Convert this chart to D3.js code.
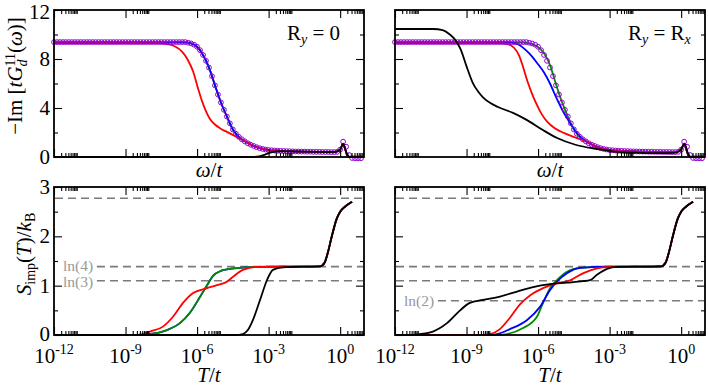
<!DOCTYPE html>
<html>
<head>
<meta charset="utf-8">
<script src="https://cdn.jsdelivr.net/npm/d3@7"></script>
<style>
  body { margin: 0; background: #fff; }
  svg  { display: block; }
</style>
</head>
<body>
<svg id="chart" width="708" height="388"></svg>
<script>
// ---------------------------------------------------------------- data
// x values are stored as log10 exponents (omega/t or T/t).
const majorExponents   = [ -12, -9, -6, -3, 0 ];
const minorMultipliers = [ 2, 3, 4, 5, 6, 7, 8, 9 ];
const xTickLabels      = [ '-12', '-9', '-6', '-3', '0' ];
const spectralTicks    = [ 0, 4, 8, 12 ];
const spectralMinor    = [ 2, 6, 10 ];
const entropyTicks     = [ 0, 1, 2, 3 ];
const entropyMinor     = [ 0.5, 1.5, 2.5 ];

// entropy reference levels: ln(16), ln(4), ln(3), ln(2)
const levelValues = [ 2.7726, 1.3863, 1.0986, 0.6931 ];
const levelLabels = [ '',     'ln(4)', 'ln(3)', 'ln(2)' ];

// open circles (reference spectrum), one every 1/8 decade from 1e-12
const circleLogStart = -12;
const circleLogStep  = 0.125;
const circleValues = [
  9.38, 9.38, 9.38, 9.38, 9.38, 9.38, 9.38, 9.38,
  9.38, 9.38, 9.38, 9.38, 9.38, 9.38, 9.38, 9.38,
  9.38, 9.38, 9.38, 9.38, 9.38, 9.38, 9.38, 9.38,
  9.38, 9.38, 9.38, 9.38, 9.38, 9.38, 9.38, 9.38,
  9.38, 9.38, 9.38, 9.38, 9.38, 9.38, 9.38, 9.38,
  9.38, 9.38, 9.38, 9.38, 9.38, 9.33, 9.27, 9.17,
  9.00, 8.72, 8.33, 7.85, 7.30, 6.60, 5.85, 5.10,
  4.45, 3.85, 3.30, 2.75, 2.25, 1.90, 1.65, 1.45,
  1.28, 1.12, 1.00, 0.90, 0.80, 0.72, 0.66, 0.61,
  0.57, 0.55, 0.53, 0.51, 0.50, 0.49, 0.48, 0.47,
  0.46, 0.45, 0.45, 0.44, 0.44, 0.43, 0.43, 0.42,
  0.42, 0.42, 0.41, 0.41, 0.41, 0.40, 0.40, 0.42,
  0.60, 1.25, 0.84, 0.16, -0.08, -0.10, -0.10, -0.10
];

// common high-frequency tail of the spectra
const spectralTail = [
  [ -3.5, 0.80 ], [ -3.0, 0.57 ], [ -2.5, 0.50 ], [ -2.0, 0.46 ], [ -1.0, 0.42 ],
  [ -0.5, 0.41 ], [ -0.2, 0.42 ], [ 0.0, 0.60 ], [ 0.12, 1.08 ], [ 0.3, 0.15 ],
  [ 0.4, 0.0 ], [ 0.9, 0.0 ]
];

// top-left panel, R_y = 0
const greenTopLeft = [
  [ -12, 9.35 ], [ -6.5, 9.35 ], [ -6.25, 9.27 ], [ -6.0, 9.0 ], [ -5.75, 8.33 ],
  [ -5.5, 7.3 ], [ -5.25, 5.85 ], [ -5.0, 4.45 ], [ -4.75, 3.3 ], [ -4.5, 2.25 ],
  [ -4.25, 1.65 ], [ -4.0, 1.28 ]
];
const blueTopLeft = [
  [ -12, 9.35 ], [ -6.5, 9.35 ], [ -6.25, 9.27 ], [ -6.0, 9.0 ], [ -5.75, 8.33 ],
  [ -5.5, 7.3 ], [ -5.25, 5.85 ], [ -5.0, 4.45 ], [ -4.75, 3.3 ], [ -4.5, 2.25 ],
  [ -4.25, 1.65 ], [ -4.0, 1.28 ]
];
const redTopLeft = [
  [ -12, 9.3 ], [ -7.6, 9.3 ], [ -7.2, 9.2 ], [ -6.9, 9.0 ], [ -6.63, 8.6 ],
  [ -6.38, 7.9 ], [ -6.17, 7.0 ], [ -5.96, 5.6 ], [ -5.8, 4.6 ], [ -5.62, 3.7 ],
  [ -5.46, 3.1 ], [ -5.25, 2.65 ], [ -5.04, 2.35 ], [ -4.75, 2.05 ], [ -4.5, 1.8 ],
  [ -4.2, 1.5 ], [ -4.0, 1.28 ]
];
const blackTopLeft = [
  [ -12, 0 ], [ -3.7, 0 ], [ -3.4, 0.05 ], [ -3.15, 0.2 ], [ -2.9, 0.38 ],
  [ -2.5, 0.47 ], [ -2.0, 0.46 ], [ -1.0, 0.42 ], [ -0.5, 0.41 ], [ -0.2, 0.42 ],
  [ 0.0, 0.6 ], [ 0.12, 1.06 ], [ 0.3, 0.15 ], [ 0.4, 0.0 ], [ 0.9, 0.0 ]
];

// top-right panel, R_y = R_x
const greenTopRight = [
  [ -12, 9.35 ], [ -6.7, 9.35 ], [ -6.4, 9.3 ], [ -6.1, 9.1 ], [ -5.9, 8.8 ],
  [ -5.7, 8.3 ], [ -5.5, 7.5 ], [ -5.35, 6.6 ], [ -5.21, 5.7 ], [ -5.0, 4.5 ],
  [ -4.75, 3.3 ], [ -4.5, 2.25 ], [ -4.25, 1.65 ], [ -4.0, 1.28 ]
];
const blueTopRight = [
  [ -12, 9.35 ], [ -7.3, 9.35 ], [ -7.0, 9.3 ], [ -6.75, 9.1 ], [ -6.5, 8.7 ],
  [ -6.25, 8.2 ], [ -6.05, 7.7 ], [ -5.75, 6.9 ], [ -5.5, 6.0 ], [ -5.25, 4.9 ],
  [ -5.0, 3.9 ], [ -4.75, 3.05 ], [ -4.5, 2.3 ], [ -4.25, 1.68 ], [ -4.0, 1.3 ]
];
const redTopRight = [
  [ -12, 9.3 ], [ -7.6, 9.3 ], [ -7.25, 9.2 ], [ -7.0, 8.9 ], [ -6.8, 8.3 ],
  [ -6.63, 7.35 ], [ -6.45, 6.2 ], [ -6.26, 5.2 ], [ -6.05, 4.25 ], [ -5.85, 3.5 ],
  [ -5.6, 2.85 ], [ -5.3, 2.35 ], [ -4.9, 1.95 ], [ -4.45, 1.6 ], [ -4.0, 1.28 ]
];
const blackTopRight = [
  [ -12, 10.45 ], [ -10.4, 10.45 ], [ -10.0, 10.35 ], [ -9.7, 10.0 ], [ -9.45, 9.5 ],
  [ -9.25, 8.8 ], [ -9.0, 7.4 ], [ -8.75, 6.1 ], [ -8.5, 5.3 ], [ -8.3, 4.85 ],
  [ -8.0, 4.4 ], [ -7.7, 4.1 ], [ -7.05, 3.6 ], [ -6.5, 3.05 ], [ -5.8, 2.2 ],
  [ -5.2, 1.55 ], [ -4.4, 0.98 ], [ -3.5, 0.65 ], [ -2.7, 0.42 ], [ -1.7, 0.34 ],
  [ -0.9, 0.31 ], [ -0.3, 0.34 ], [ -0.1, 0.45 ], [ 0.0, 0.65 ], [ 0.14, 1.06 ],
  [ 0.3, 0.2 ], [ 0.4, 0.0 ], [ 0.9, 0.0 ]
];

// common high-temperature rise of the entropy
const entropyHighT = [
  [ -1.5, 1.386 ], [ -0.85, 1.39 ], [ -0.65, 1.47 ], [ -0.5, 1.7 ], [ -0.35, 2.0 ],
  [ -0.15, 2.35 ], [ 0.0, 2.5 ], [ 0.2, 2.6 ], [ 0.5, 2.7 ]
];

// bottom-left panel
const greenBottomLeft = [
  [ -12, 0 ], [ -8.3, 0 ], [ -8.0, 0.02 ], [ -7.6, 0.05 ], [ -7.26, 0.1 ],
  [ -6.72, 0.24 ], [ -6.3, 0.45 ], [ -5.88, 0.77 ], [ -5.58, 1.01 ], [ -5.33, 1.2 ],
  [ -5.0, 1.3 ], [ -4.75, 1.33 ], [ -4.2, 1.36 ], [ -3.5, 1.38 ], [ -2.5, 1.386 ]
];
const blueBottomLeft = [
  [ -12, 0 ], [ -8.3, 0 ], [ -8.0, 0.02 ], [ -7.6, 0.05 ], [ -7.26, 0.1 ],
  [ -6.72, 0.24 ], [ -6.3, 0.45 ], [ -5.88, 0.77 ], [ -5.58, 1.01 ], [ -5.33, 1.2 ],
  [ -5.0, 1.3 ], [ -4.75, 1.33 ], [ -4.2, 1.36 ], [ -3.5, 1.38 ], [ -2.5, 1.386 ]
];
const redBottomLeft = [
  [ -12, 0 ], [ -8.6, 0 ], [ -8.3, 0.02 ], [ -7.97, 0.07 ], [ -7.43, 0.17 ],
  [ -7.01, 0.37 ], [ -6.59, 0.65 ], [ -6.17, 0.85 ], [ -5.58, 0.95 ], [ -5.17, 1.01 ],
  [ -4.75, 1.08 ], [ -4.49, 1.18 ], [ -4.08, 1.32 ], [ -3.49, 1.38 ], [ -2.5, 1.386 ]
];
const blackBottomLeft = [
  [ -12, 0 ], [ -4.4, 0 ], [ -4.08, 0.02 ], [ -3.87, 0.1 ], [ -3.66, 0.3 ],
  [ -3.36, 0.71 ], [ -3.07, 1.11 ], [ -2.82, 1.32 ], [ -2.4, 1.37 ]
];

// bottom-right panel
const greenBottomRight = [
  [ -12, 0 ], [ -7.8, 0 ], [ -7.3, 0.02 ], [ -6.63, 0.14 ], [ -6.05, 0.37 ],
  [ -5.79, 0.65 ], [ -5.5, 0.95 ], [ -5.21, 1.11 ], [ -4.79, 1.28 ], [ -4.24, 1.36 ],
  [ -3.0, 1.386 ]
];
const blueBottomRight = [
  [ -12, 0 ], [ -8.2, 0 ], [ -7.72, 0.02 ], [ -7.18, 0.12 ], [ -6.47, 0.3 ],
  [ -5.92, 0.57 ], [ -5.5, 0.91 ], [ -5.21, 1.08 ], [ -4.79, 1.25 ], [ -4.24, 1.36 ],
  [ -3.0, 1.386 ]
];
const redBottomRight = [
  [ -12, 0 ], [ -8.5, 0 ], [ -8.02, 0.02 ], [ -7.6, 0.12 ], [ -7.18, 0.35 ],
  [ -6.76, 0.62 ], [ -6.34, 0.8 ], [ -5.79, 0.95 ], [ -5.21, 1.05 ], [ -4.66, 1.11 ],
  [ -4.12, 1.25 ], [ -3.53, 1.35 ], [ -3.0, 1.38 ]
];
const blackBottomRight = [
  [ -12, 0 ], [ -11.3, 0 ], [ -11.08, 0.01 ], [ -10.41, 0.07 ], [ -9.82, 0.24 ],
  [ -9.27, 0.5 ], [ -8.86, 0.65 ], [ -8.31, 0.71 ], [ -7.6, 0.78 ], [ -6.88, 0.88 ],
  [ -6.21, 0.97 ], [ -5.5, 1.03 ], [ -4.79, 1.06 ], [ -4.12, 1.09 ], [ -3.82, 1.11 ],
  [ -3.53, 1.22 ], [ -3.11, 1.34 ], [ -2.69, 1.38 ]
];

const colors = { black: '#000', red: '#ff0000', green: '#008b00', blue: '#0000ff', violet: '#9400d3' };
const serif  = "'Liberation Serif'";

// ---------------------------------------------------------------- layout
const svg = d3.select( '#chart' );
const panelW = 310;
const panels = [
  { left: 54,  top: 10,  bottom: 157, yMax: 12, kind: 'spectral', yLabels: true,  tag: 'R_y = 0' },
  { left: 395, top: 10,  bottom: 157, yMax: 12, kind: 'spectral', yLabels: false, tag: 'R_y = R_x' },
  { left: 54,  top: 187, bottom: 335, yMax: 3,  kind: 'entropy',  yLabels: true,  levels: [ 0, 1, 2 ] },
  { left: 395, top: 187, bottom: 335, yMax: 3,  kind: 'entropy',  yLabels: false, levels: [ 0, 1, 2, 3 ] }
];
panels[0].series = [
  { d: greenTopLeft.concat( spectralTail ), c: colors.green },
  { d: blueTopLeft.concat( spectralTail ),  c: colors.blue },
  { d: redTopLeft.concat( spectralTail ),   c: colors.red },
  { circles: true },
  { d: blackTopLeft, c: colors.black }
];
panels[1].series = [
  { d: greenTopRight.concat( spectralTail ), c: colors.green },
  { d: blueTopRight.concat( spectralTail ),  c: colors.blue },
  { d: redTopRight.concat( spectralTail ),   c: colors.red },
  { circles: true },
  { d: blackTopRight, c: colors.black }
];
panels[2].series = [
  { d: blueBottomLeft.concat( entropyHighT ),  c: colors.blue },
  { d: greenBottomLeft.concat( entropyHighT ), c: colors.green },
  { d: redBottomLeft.concat( entropyHighT ),   c: colors.red },
  { d: blackBottomLeft.concat( entropyHighT ), c: colors.black }
];
panels[3].series = [
  { d: greenBottomRight.concat( entropyHighT ), c: colors.green },
  { d: blueBottomRight.concat( entropyHighT ),  c: colors.blue },
  { d: redBottomRight.concat( entropyHighT ),   c: colors.red },
  { d: blackBottomRight.concat( entropyHighT ), c: colors.black }
];

const minorValues = [ ];
majorExponents.forEach( e => minorMultipliers.forEach( m => minorValues.push( m * Math.pow( 10, e ) ) ) );

// ---------------------------------------------------------------- drawing
panels.forEach( p => {
  const x = d3.scaleLog( ).domain( [ 1e-12, 10 ] ).range( [ p.left, p.left + panelW ] );
  const y = d3.scaleLinear( ).domain( [ 0, p.yMax ] ).range( [ p.bottom, p.top ] );
  const g = svg.append( 'g' );
  const yMajor = p.kind === 'spectral' ? spectralTicks : entropyTicks;
  const yMinor = p.kind === 'spectral' ? spectralMinor : entropyMinor;

  // dashed entropy levels; labelled ones start right after their label
  if ( p.levels ) {
    p.levels.forEach( i => {
      const labelled = i !== 0 && ( p.left < 100 || i === 3 );
      const startExp = labelled ? -10.2 : -12;
      const ly = y( levelValues[ i ] );
      g.append( 'line' )
        .attr( 'x1', x( Math.pow( 10, startExp ) ) + ( labelled ? 0 : 1 ) )
        .attr( 'x2', p.left + panelW - 1 )
        .attr( 'y1', ly )
        .attr( 'y2', ly )
        .attr( 'stroke', '#7a7a7a' )
        .attr( 'stroke-width', 1.6 )
        .attr( 'stroke-dasharray', '8,5' );
      if ( labelled ) {
        // keep ln(4) and ln(3) apart a little
        const nudge = i === 1 ? -1 : ( i === 2 ? 1 : 0 );
        g.append( 'text' )
          .attr( 'x', p.left + 9 )
          .attr( 'y', ly + 5 + nudge )
          .attr( 'font-size', 15.5 )
          .attr( 'fill', '#999' )
          .text( levelLabels[ i ] );
      }
    } );
  }

  // curves
  const line = d3.line( )
    .x( d => x( Math.pow( 10, d[0] ) ) )
    .y( d => y( d[1] ) )
    .curve( d3.curveMonotoneX );
  p.series.forEach( s => {
    if ( s.circles ) {
      g.append( 'g' ).selectAll( 'circle' )
        .data( circleValues )
        .enter( )
        .append( 'circle' )
          .attr( 'cx', ( d, i ) => x( Math.pow( 10, circleLogStart + i * circleLogStep ) ) )
          .attr( 'cy', d => y( d ) )
          .attr( 'r', 2.4 )
          .attr( 'fill', 'none' )
          .attr( 'stroke', colors.violet )
          .attr( 'stroke-width', 1 );
      return;
    }
    g.append( 'path' )
      .datum( s.d )
      .attr( 'd', line )
      .attr( 'fill', 'none' )
      .attr( 'stroke', s.c )
      .attr( 'stroke-width', 1.8 );
  } );

  // ticks on all four sides, pointing inwards
  const tickAxis = ( axis, tx, ty, vals, size ) => {
    const a = g.append( 'g' )
      .attr( 'transform', `translate(${tx},${ty})` )
      .call( axis.tickValues( vals ).tickSize( -size ).tickFormat( '' ) );
    a.select( '.domain' ).remove( );
    a.selectAll( 'line' ).attr( 'stroke-width', 1.1 );
  };
  const majors = majorExponents.map( e => Math.pow( 10, e ) );
  tickAxis( d3.axisBottom( x ), 0, p.bottom, majors, 8 );
  tickAxis( d3.axisBottom( x ), 0, p.bottom, minorValues, 4 );
  tickAxis( d3.axisTop( x ),    0, p.top,    majors, 8 );
  tickAxis( d3.axisTop( x ),    0, p.top,    minorValues, 4 );
  tickAxis( d3.axisLeft( y ),   p.left, 0,   yMajor, 8 );
  tickAxis( d3.axisLeft( y ),   p.left, 0,   yMinor, 4 );
  tickAxis( d3.axisRight( y ),  p.left + panelW, 0, yMajor, 8 );
  tickAxis( d3.axisRight( y ),  p.left + panelW, 0, yMinor, 4 );

  // frame
  g.append( 'rect' )
    .attr( 'x', p.left )
    .attr( 'y', p.top )
    .attr( 'width', panelW )
    .attr( 'height', p.bottom - p.top )
    .attr( 'fill', 'none' )
    .attr( 'stroke', '#000' )
    .attr( 'stroke-width', 1.8 );

  // y tick labels; the outermost ones are kept inside the page / off the x labels
  if ( p.yLabels ) {
    g.selectAll( '.ylab' )
      .data( yMajor )
      .enter( )
      .append( 'text' )
        .attr( 'x', p.left - 4 )
        .attr( 'y', d => {
          const base = y( d ) + 7;
          if ( d === p.yMax && p.top < 20 ) return Math.max( base, 19 );
          if ( d === 0 && p.kind === 'entropy' ) return base - 1.5;
          return base;
        } )
        .attr( 'text-anchor', 'end' )
        .attr( 'font-size', 21 )
        .text( d => d );
  }

  // x tick labels (bottom row only)
  if ( p.kind === 'entropy' ) {
    majorExponents.forEach( ( e, i ) => {
      const t = g.append( 'text' )
        .attr( 'x', x( Math.pow( 10, e ) ) )
        .attr( 'y', 362.5 )
        .attr( 'text-anchor', 'middle' )
        .attr( 'font-size', 21 )
        .text( '10' );
      t.append( 'tspan' )
        .attr( 'dy', -9 )
        .attr( 'font-size', 14 )
        .text( xTickLabels[ i ] );
    } );
  }

  // x axis title
  const cx = p.left + panelW / 2;
  const xt = g.append( 'text' )
    .attr( 'x', cx )
    .attr( 'y', p.kind === 'spectral' ? 177 : 382 )
    .attr( 'text-anchor', 'middle' )
    .attr( 'font-size', 21 )
    .attr( 'font-style', 'italic' );
  xt.append( 'tspan' ).text( p.kind === 'spectral' ? 'ω' : 'T' );
  xt.append( 'tspan' ).attr( 'font-style', 'normal' ).text( '/' );
  xt.append( 'tspan' ).text( 't' );

  // panel tag
  if ( p.tag ) {
    const t = g.append( 'text' )
      .attr( 'x', p.left === 54 ? 287 : 628 )
      .attr( 'y', 40 )
      .attr( 'font-size', 21 );
    t.append( 'tspan' ).text( 'R' );
    t.append( 'tspan' ).attr( 'font-size', 14 ).attr( 'font-style', 'italic' ).attr( 'dy', 4 ).text( 'y' );
    if ( p.tag === 'R_y = 0' ) {
      t.append( 'tspan' ).attr( 'dy', -4 ).text( ' = 0' );
    } else {
      t.append( 'tspan' ).attr( 'dy', -4 ).text( ' = R' );
      t.append( 'tspan' ).attr( 'font-size', 14 ).attr( 'font-style', 'italic' ).attr( 'dy', 4 ).text( 'x' );
    }
  }
} );

// y axis titles
const yTop = svg.append( 'text' )
  .attr( 'transform', 'translate(22,76) rotate(-90)' )
  .attr( 'text-anchor', 'middle' )
  .attr( 'font-size', 21 );
yTop.append( 'tspan' ).text( '\u2212Im [' );
yTop.append( 'tspan' ).attr( 'font-style', 'italic' ).text( 'tG' );
yTop.append( 'tspan' ).attr( 'font-style', 'italic' ).attr( 'font-size', 14 ).attr( 'dy', 5 ).text( 'd' );
yTop.append( 'tspan' ).attr( 'font-size', 14 ).attr( 'dx', -7 ).attr( 'dy', -12 ).text( '11' );
yTop.append( 'tspan' ).attr( 'dy', 7 ).text( '(' );
yTop.append( 'tspan' ).attr( 'font-style', 'italic' ).text( 'ω' );
yTop.append( 'tspan' ).text( ')]' );

const yBot = svg.append( 'text' )
  .attr( 'transform', 'translate(31,254) rotate(-90)' )
  .attr( 'text-anchor', 'middle' )
  .attr( 'font-size', 21 );
yBot.append( 'tspan' ).attr( 'font-style', 'italic' ).text( 'S' );
yBot.append( 'tspan' ).attr( 'font-size', 14 ).attr( 'dy', 4 ).text( 'imp' );
yBot.append( 'tspan' ).attr( 'dy', -4 ).text( '(' );
yBot.append( 'tspan' ).attr( 'font-style', 'italic' ).text( 'T' );
yBot.append( 'tspan' ).text( ')/' );
yBot.append( 'tspan' ).attr( 'font-style', 'italic' ).text( 'k' );
yBot.append( 'tspan' ).attr( 'font-size', 14 ).attr( 'dy', 4 ).text( 'B' );

// every text in the Times-like serif
svg.selectAll( 'text' ).style( 'font-family', serif );
</script>
</body>
</html>
